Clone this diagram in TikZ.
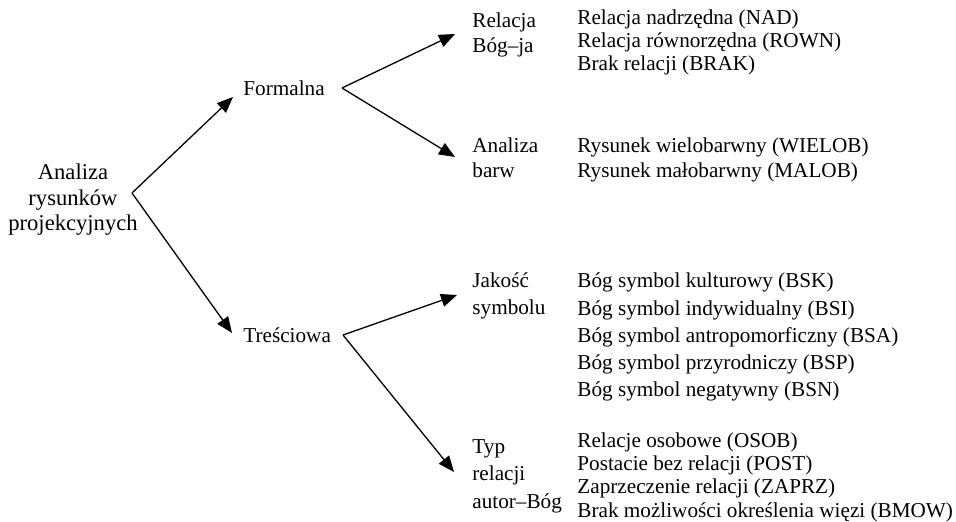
\documentclass[tikz,border=0pt]{standalone}
\usepackage{fontspec}
\setmainfont{Liberation Serif}
\usetikzlibrary{arrows.meta,positioning,calc}

\begin{document}
\begin{tikzpicture}[
  x=0.5pt, y=-0.5pt,
  lbl/.style={inner sep=0pt,align=left,anchor=base west,font=\fontsize{10.6}{#1}\selectfont},
  lbl/.default=12.5,
  arr/.style={-{Triangle[length=8pt,width=6.5pt]},line width=0.65pt}
]
\useasboundingbox (0,0) rectangle (956,522);
% poziom 1 (base = ostatnia linia)
\node[lbl=12.75,align=center,anchor=base,font=\fontsize{11.3}{12.75}\selectfont] (root) at (73,231) {Analiza\\rysunków\\projekcyjnych};
% poziom 2
\node[lbl] (form) at (243,96) {Formalna};
\node[lbl] (tresc) at (243,343) {Treściowa};
% poziom 3
\node[lbl=12.5] (rel) at (472,53) {Relacja\\Bóg--ja};
\node[lbl=12.5] (barw) at (472,178) {Analiza\\barw};
\node[lbl=13.5] (sym) at (472,315) {Jakość\\symbolu};
\node[lbl=13.75] (typ) at (472,508) {Typ\\relacji\\autor--Bóg};
% kategorie
\node[lbl=11.5] (relL) at (577,71) {Relacja nadrzędna (NAD)\\Relacja równorzędna (ROWN)\\Brak relacji (BRAK)};
\node[lbl=12.5] (barwL) at (577,178) {Rysunek wielobarwny (WIELOB)\\Rysunek małobarwny (MALOB)};
\node[lbl=13.65] (symL) at (577,397) {Bóg symbol kulturowy (BSK)\\Bóg symbol indywidualny (BSI)\\Bóg symbol antropomorficzny (BSA)\\Bóg symbol przyrodniczy (BSP)\\Bóg symbol negatywny (BSN)};
\node[lbl=11.65] (typL) at (577,517) {Relacje osobowe (OSOB)\\Postacie bez relacji (POST)\\Zaprzeczenie relacji (ZAPRZ)\\Brak możliwości określenia więzi (BMOW)};
% rozgalezienia
\coordinate (rootR) at (132,193);
\coordinate (formR) at (342,88);
\coordinate (trescR) at (343,335);
\draw[arr] (rootR) -- ($(form.base west)+(-10,1)$);
\draw[arr] (rootR) -- ($(tresc.base west)+(-11,-10)$);
\draw[arr] (formR) -- ($(rel.base west)+(-17,-19)$);
\draw[arr] (formR) -- ($(barw.base west)+(-17,-21)$);
\draw[arr] (trescR) -- ($(sym.base west)+(-15,-20)$);
\draw[arr] (trescR) -- ($(typ.base west)+(-18,-36)$);
\end{tikzpicture}
\end{document}
